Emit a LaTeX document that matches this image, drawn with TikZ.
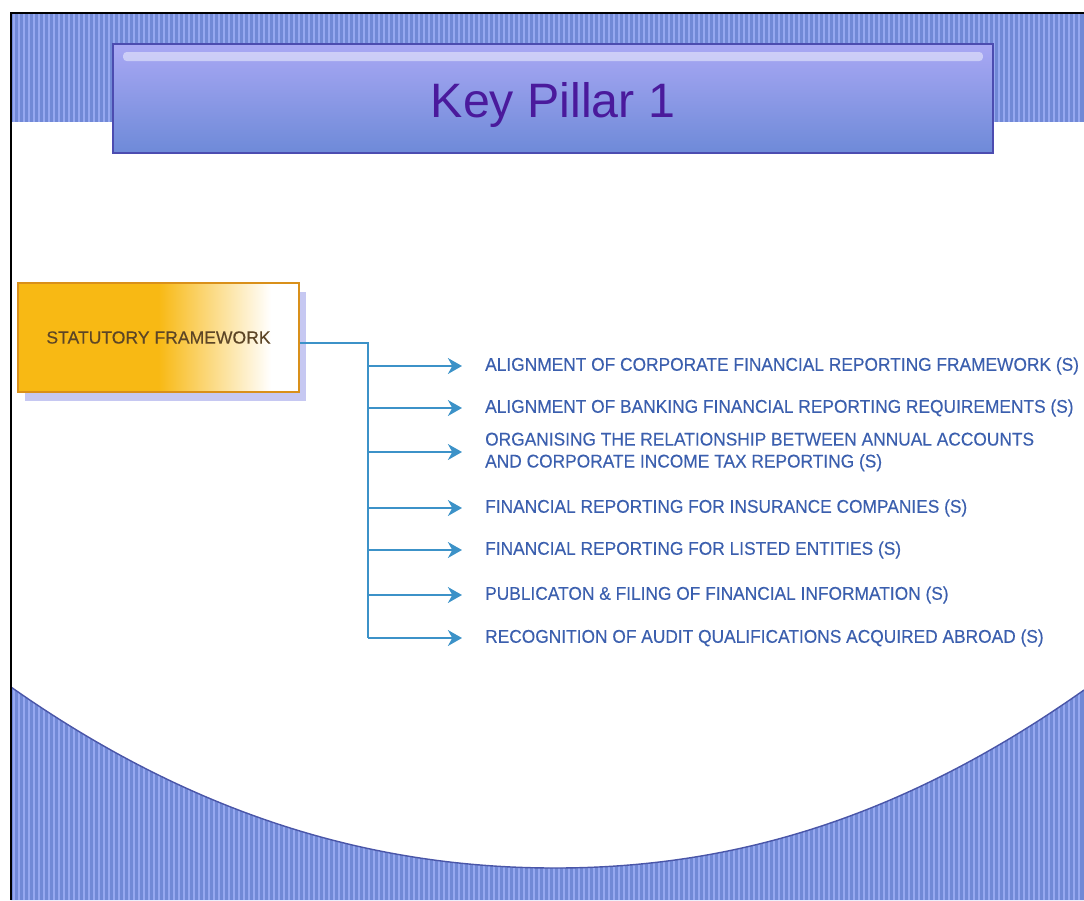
\documentclass[tikz,border=0pt]{standalone}
\usepackage{fontspec}
\setmainfont{Liberation Sans}
\newfontfamily\itemfont{Liberation Sans}[FakeStretch=0.94, FakeBold=0.3]
\newfontfamily\boxfont{Liberation Sans}[FakeBold=0.3]
\usepackage{xcolor}
\usepackage{tikz}
\usetikzlibrary{arrows, arrows.meta, positioning, shadows}

\definecolor{bandblue}{HTML}{7189D6}
\definecolor{stripeblue}{HTML}{96A8F0}
\definecolor{edgeblue}{HTML}{4A56A8}
\definecolor{titletop}{HTML}{A9A8F4}
\definecolor{titlebottom}{HTML}{6E8AD8}
\definecolor{titleline}{HTML}{4C4CB0}
\definecolor{titletext}{HTML}{4A1A9C}
\definecolor{sfgold}{HTML}{F8B914}
\definecolor{sfline}{HTML}{D9901A}
\definecolor{sftext}{HTML}{5C4526}
\definecolor{shadowcol}{HTML}{C6C8F2}
\definecolor{linkblue}{HTML}{3C92C8}
\definecolor{itemblue}{HTML}{3B5FAE}

\pgfdeclarehorizontalshading{goldfade}{100bp}{color(0bp)=(sfgold); color(50bp)=(sfgold); color(70bp)=(white); color(100bp)=(white)}

\newcommand{\bowlpath}{(11,687) .. controls (200,820) and (380,868) .. (555,868) .. controls (730,868) and (900,820) .. (1084,690)}

\begin{document}
\begin{tikzpicture}[
    x=0.02cm, y=-0.02cm,
    stripe/.style={stripeblue, line width=0.7pt},
    titlebox/.style={draw=titleline, line width=0.8pt, top color=titletop, bottom color=titlebottom,
      minimum width=17.6cm, minimum height=2.18cm, text=titletext,
      font=\fontsize{27.5}{30}\selectfont, text height=22pt, text depth=0pt},
    sfbox/.style={draw=sfline, line width=0.8pt, shading=goldfade,
      minimum width=5.62cm, minimum height=2.18cm, text=sftext,
      font=\boxfont\fontsize{10}{12}\selectfont,
      drop shadow={shadow xshift=4pt, shadow yshift=-5pt, fill=shadowcol, opacity=1}},
    item/.style={anchor=west, inner xsep=13pt, align=left, text=itemblue,
      font=\itemfont\fontsize{10.5}{12.5}\selectfont},
    link/.style={linkblue, line width=1.6pt},
    arrow/.style={link, -{Stealth[length=8pt, width=9pt, inset=2.5pt]}}
]
\useasboundingbox (0,0) rectangle (1084,900);

% striped band at the top
\fill[bandblue] (11,13) rectangle (1084,122);
\foreach \x in {14,19,...,1082}
  \draw[stripe] (\x,13) -- (\x,122);

% striped bowl at the bottom
\fill[bandblue] \bowlpath -- (1084,900) -- (11,900) -- cycle;
\begin{scope}
  \clip \bowlpath -- (1084,900) -- (11,900) -- cycle;
  \foreach \x in {14,19,...,1082}
    \draw[stripe] (\x,660) -- (\x,900);
\end{scope}
\draw[edgeblue, line width=0.8pt] \bowlpath;

% frame
\draw[black, line width=1.3pt] (11,900) -- (11,13) -- (1084,13);

% title
\node[titlebox, path picture={
    \fill[white, opacity=0.45, rounded corners=2pt]
      ([shift={(10,8)}]path picture bounding box.north west)
      rectangle ([shift={(-10,17)}]path picture bounding box.north east);
  }] (title) at (553,98.5) {Key Pillar 1};

% left box
\node[sfbox] (sf) at (158.5,337.5) {STATUTORY FRAMEWORK};

% items
\node[item] (it1) at (462,366) {ALIGNMENT OF CORPORATE FINANCIAL REPORTING FRAMEWORK (S)};
\node[item] (it2) at (462,408) {ALIGNMENT OF BANKING FINANCIAL REPORTING REQUIREMENTS (S)};
\node[item] (it3) at (462,452) {ORGANISING THE RELATIONSHIP BETWEEN ANNUAL ACCOUNTS\\AND CORPORATE INCOME TAX REPORTING (S)};
\node[item] (it4) at (462,508) {FINANCIAL REPORTING FOR INSURANCE COMPANIES (S)};
\node[item] (it5) at (462,550) {FINANCIAL REPORTING FOR LISTED ENTITIES (S)};
\node[item] (it6) at (462,595) {PUBLICATON \& FILING OF FINANCIAL INFORMATION (S)};
\node[item] (it7) at (462,638) {RECOGNITION OF AUDIT QUALIFICATIONS ACQUIRED ABROAD (S)};

% connectors
\coordinate (split) at (368,343);
\draw[link] (sf.east |- split) -- (split) -- (split |- it7);
\foreach \n in {it1,it2,it3,it4,it5,it6,it7}
  \draw[arrow] (split |- \n) -- (\n.west);
\end{tikzpicture}
\end{document}
